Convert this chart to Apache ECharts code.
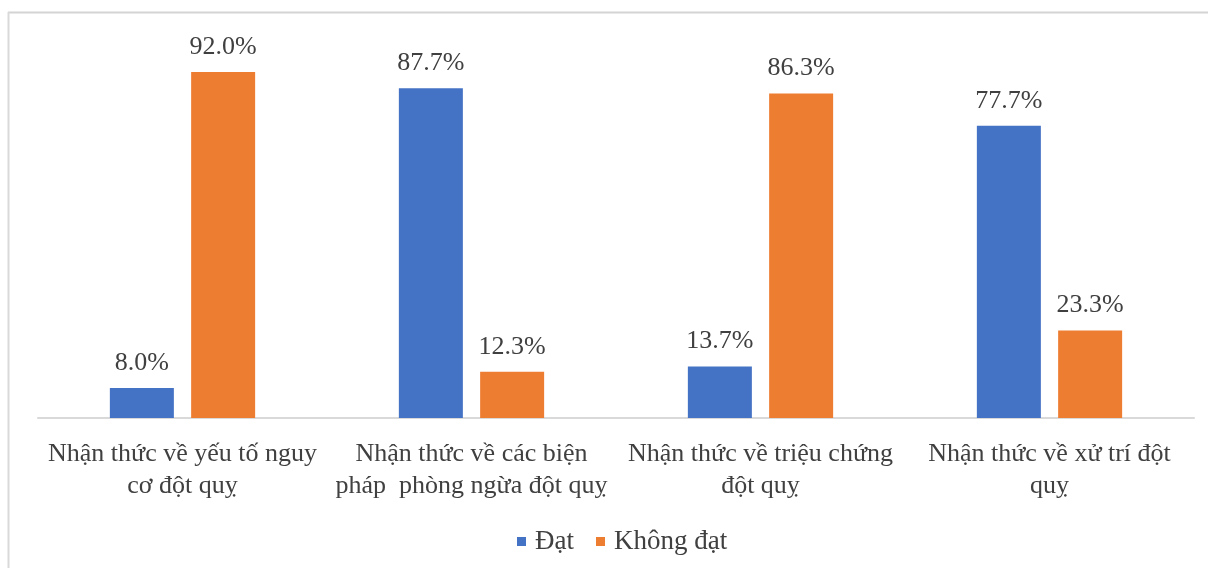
<!DOCTYPE html>
<html>
<head>
<meta charset="utf-8">
<script src="https://cdn.jsdelivr.net/npm/echarts@6/dist/echarts.min.js"></script>
<style>
html,body{margin:0;padding:0;background:#fff;}
#chart{width:1208px;height:568px;}
</style>
</head>
<body>
<div id="chart"></div>
<script>
const categories = [
  "Nhận thức về yếu tố nguy\ncơ đột quỵ",
  "Nhận thức về các biện\npháp  phòng ngừa đột quỵ",
  "Nhận thức về triệu chứng\nđột quỵ",
  "Nhận thức về xử trí đột\nquỵ"
];
const datValues = [8.0, 87.7, 13.7, 77.7];
const khongDatValues = [92.0, 12.3, 86.3, 23.3];
const seriesNames = ["Đạt", "Không đạt"];

const FONT = '"Liberation Serif", "Times New Roman", serif';
const chart = echarts.init(document.getElementById('chart'));
const labelCfg = {
  show: true, position: 'top', distance: 12,
  formatter: p => p.value.toFixed(1) + '%',
  fontFamily: FONT, fontSize: 26, color: '#404040'
};
chart.setOption({
  animation: false,
  graphic: [
    { type: 'line', shape: { x1: 8, y1: 12.5, x2: 1208, y2: 12.5 }, style: { stroke: '#d4d4d4', lineWidth: 2 } },
    { type: 'line', shape: { x1: 8.5, y1: 12, x2: 8.5, y2: 568 }, style: { stroke: '#d9d9d9', lineWidth: 2 } }
  ],
  grid: { left: 38, right: 14, top: 42, bottom: 150 },
  legend: {
    data: seriesNames,
    bottom: 8,
    left: 512,
    itemWidth: 9, itemHeight: 9, itemGap: 22,
    icon: 'rect',
    textStyle: { fontFamily: FONT, fontSize: 27, color: '#404040', padding: [0, 0, 0, 4] }
  },
  xAxis: {
    type: 'category',
    data: categories,
    axisLine: { lineStyle: { color: '#d9d9d9', width: 2 } },
    axisTick: { show: false },
    axisLabel: {
      interval: 0, fontFamily: FONT, fontSize: 26, color: '#404040',
      lineHeight: 32, margin: 20
    }
  },
  yAxis: {
    type: 'value', min: 0, max: 100, show: false,
    splitLine: { show: false }
  },
  series: [
    { name: seriesNames[0], type: 'bar', data: datValues, barWidth: 64, barGap: '27%',
      itemStyle: { color: '#4472C4' }, label: labelCfg },
    { name: seriesNames[1], type: 'bar', data: khongDatValues, barWidth: 64, barGap: '27%',
      itemStyle: { color: '#ED7D31' }, label: labelCfg }
  ]
});
</script>
</body>
</html>
